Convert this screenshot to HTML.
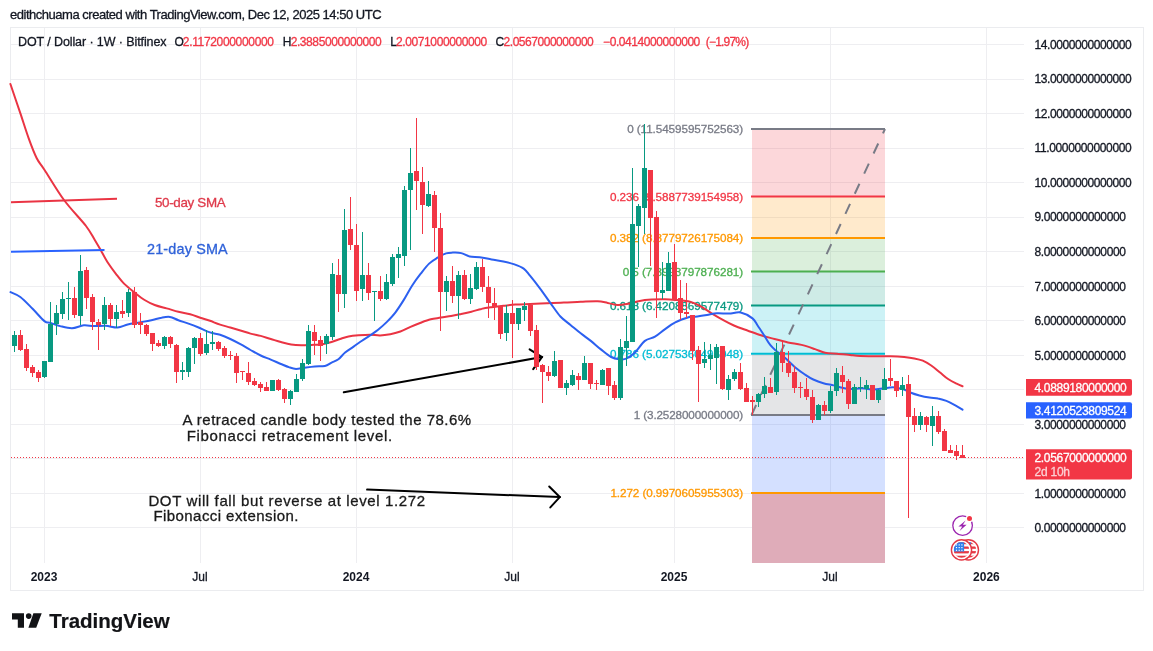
<!DOCTYPE html>
<html lang="en"><head><meta charset="utf-8"><title>DOT / Dollar 1W Bitfinex - TradingView</title>
<style>html,body{margin:0;padding:0;background:#fff;overflow:hidden}svg{display:block}text{font-family:'Liberation Sans', 'DejaVu Sans', sans-serif;white-space:pre}</style>
</head><body>
<svg width="1153" height="651" viewBox="0 0 1153 651">
<rect width="1153" height="651" fill="#ffffff"/>
<rect x="10.5" y="27.5" width="1133" height="563" fill="#ffffff" stroke="#ebecef" stroke-width="1"/>
<g stroke="#eeeef1" stroke-width="1" shape-rendering="crispEdges">
<line x1="11" y1="527.5" x2="1024" y2="527.5"/>
<line x1="11" y1="493.5" x2="1024" y2="493.5"/>
<line x1="11" y1="458.5" x2="1024" y2="458.5"/>
<line x1="11" y1="424.5" x2="1024" y2="424.5"/>
<line x1="11" y1="389.5" x2="1024" y2="389.5"/>
<line x1="11" y1="355.5" x2="1024" y2="355.5"/>
<line x1="11" y1="320.5" x2="1024" y2="320.5"/>
<line x1="11" y1="286.5" x2="1024" y2="286.5"/>
<line x1="11" y1="251.5" x2="1024" y2="251.5"/>
<line x1="11" y1="217.5" x2="1024" y2="217.5"/>
<line x1="11" y1="182.5" x2="1024" y2="182.5"/>
<line x1="11" y1="148.5" x2="1024" y2="148.5"/>
<line x1="11" y1="113.5" x2="1024" y2="113.5"/>
<line x1="11" y1="79.5" x2="1024" y2="79.5"/>
<line x1="11" y1="44.5" x2="1024" y2="44.5"/>
<line x1="44.5" y1="28" x2="44.5" y2="563"/>
<line x1="200.5" y1="28" x2="200.5" y2="563"/>
<line x1="356.5" y1="28" x2="356.5" y2="563"/>
<line x1="512.5" y1="28" x2="512.5" y2="563"/>
<line x1="674.5" y1="28" x2="674.5" y2="563"/>
<line x1="830.5" y1="28" x2="830.5" y2="563"/>
<line x1="986.5" y1="28" x2="986.5" y2="563"/>
</g>
<rect x="752" y="129.0" width="133" height="67.6" fill="rgba(242,54,69,0.2)"/>
<rect x="752" y="196.6" width="133" height="41.4" fill="rgba(255,152,0,0.2)"/>
<rect x="752" y="238.0" width="133" height="33.6" fill="rgba(76,175,80,0.2)"/>
<rect x="752" y="271.6" width="133" height="33.9" fill="rgba(8,153,129,0.2)"/>
<rect x="752" y="305.5" width="133" height="48.2" fill="rgba(0,188,212,0.2)"/>
<rect x="752" y="353.7" width="133" height="61.3" fill="rgba(120,123,134,0.2)"/>
<rect x="752" y="415.0" width="133" height="78.0" fill="rgba(41,98,255,0.2)"/>
<rect x="752" y="493.0" width="133" height="70.0" fill="#dfacb9"/>
<text x="627.2" y="133.2" font-size="11.7" fill="#787b86" stroke="#787b86" stroke-width="0.3" textLength="116.0" lengthAdjust="spacing">0 (11.5459595752563)</text>
<text x="610.0" y="200.8" font-size="11.7" fill="#f23645" stroke="#f23645" stroke-width="0.3" textLength="133.2" lengthAdjust="spacing">0.236 (9.5887739154958)</text>
<text x="610.0" y="242.2" font-size="11.7" fill="#ff9800" stroke="#ff9800" stroke-width="0.3" textLength="133.2" lengthAdjust="spacing">0.382 (8.3779726175084)</text>
<text x="622.7" y="275.8" font-size="11.7" fill="#4caf50" stroke="#4caf50" stroke-width="0.3" textLength="120.5" lengthAdjust="spacing">0.5 (7.3993797876281)</text>
<text x="610.0" y="309.7" font-size="11.7" fill="#089981" stroke="#089981" stroke-width="0.3" textLength="133.2" lengthAdjust="spacing">0.618 (6.4208869577479)</text>
<text x="610.0" y="357.9" font-size="11.7" fill="#00bcd4" stroke="#00bcd4" stroke-width="0.3" textLength="133.2" lengthAdjust="spacing">0.786 (5.0275360496048)</text>
<text x="633.8" y="419.2" font-size="11.7" fill="#787b86" stroke="#787b86" stroke-width="0.3" textLength="109.4" lengthAdjust="spacing">1 (3.2528000000000)</text>
<text x="610.4" y="497.2" font-size="11.7" fill="#ff9800" stroke="#ff9800" stroke-width="0.3" textLength="132.8" lengthAdjust="spacing">1.272 (0.9970605955303)</text>
<line x1="751" y1="129.0" x2="885" y2="129.0" stroke="#787b86" stroke-width="2"/>
<line x1="751" y1="196.6" x2="885" y2="196.6" stroke="#f23645" stroke-width="2"/>
<line x1="751" y1="238.0" x2="885" y2="238.0" stroke="#ff9800" stroke-width="2"/>
<line x1="751" y1="271.6" x2="885" y2="271.6" stroke="#4caf50" stroke-width="2"/>
<line x1="751" y1="305.5" x2="885" y2="305.5" stroke="#089981" stroke-width="2"/>
<line x1="751" y1="353.7" x2="885" y2="353.7" stroke="#00bcd4" stroke-width="2"/>
<line x1="751" y1="415.0" x2="885" y2="415.0" stroke="#787b86" stroke-width="2"/>
<line x1="751" y1="493.0" x2="885" y2="493.0" stroke="#ff9800" stroke-width="2"/>
<line x1="751.5" y1="415" x2="885" y2="129" stroke="#787b86" stroke-width="2" stroke-dasharray="11 11.2"/>
<g stroke="#000000" stroke-width="2" fill="none" stroke-linecap="round">
<line x1="343.8" y1="392.3" x2="542" y2="357.1"/>
<polyline points="529.6,349.4 542,357.1 533.2,369.2"/>
<line x1="367.1" y1="489.6" x2="559.8" y2="497.1"/>
<polyline points="549.2,486.5 559.8,497.1 550.3,507.4"/>
</g>
<path d="M10.4 84.0 C12.2 89.2 17.8 105.8 20.9 114.9 C23.9 124.0 26.1 131.2 28.7 138.4 C31.3 145.6 34.0 152.8 36.6 158.0 C39.2 163.2 39.8 162.7 44.4 169.7 C49.0 176.7 57.1 190.6 64.0 200.0 C70.9 209.4 80.9 219.3 86.0 226.0 C91.1 232.7 92.3 236.0 94.8 240.0 C97.2 244.0 98.6 246.4 100.7 250.1 C102.8 253.8 104.9 258.1 107.4 262.0 C109.9 265.9 113.1 270.2 115.9 273.8 C118.7 277.4 121.2 280.8 124.3 283.9 C127.4 287.0 131.1 289.7 134.5 292.4 C137.9 295.1 141.2 297.9 144.6 300.0 C148.0 302.1 151.0 303.6 154.7 305.0 C158.4 306.4 162.6 307.3 166.6 308.4 C170.6 309.5 174.5 310.8 178.4 311.8 C182.3 312.8 186.5 313.3 190.2 314.3 C193.8 315.3 197.0 316.6 200.3 317.7 C203.6 318.8 206.7 319.6 210.0 320.8 C213.3 322.0 216.7 323.5 220.1 324.6 C223.5 325.7 226.9 326.5 230.3 327.5 C233.7 328.5 237.0 329.5 240.4 330.5 C243.8 331.5 247.1 332.7 250.5 333.6 C253.9 334.5 257.3 335.0 260.7 335.9 C264.1 336.8 267.4 338.0 270.8 339.0 C274.2 340.0 277.5 341.1 280.9 342.0 C284.3 342.9 287.7 343.9 291.1 344.4 C294.5 344.9 297.8 345.1 301.2 345.2 C304.6 345.3 308.0 345.0 311.4 344.9 C314.8 344.8 318.1 344.9 321.5 344.4 C324.9 343.9 328.5 342.9 331.6 342.0 C334.7 341.1 337.3 339.9 340.1 339.0 C342.9 338.1 345.4 337.1 348.5 336.5 C351.6 335.9 355.0 335.6 358.6 335.3 C362.2 335.0 366.4 334.7 370.0 334.7 C373.6 334.7 376.7 335.5 380.1 335.4 C383.5 335.3 386.9 334.8 390.3 334.2 C393.7 333.6 397.0 332.7 400.4 331.5 C403.8 330.3 407.1 328.4 410.5 326.9 C413.9 325.4 417.3 324.0 420.7 322.7 C424.1 321.4 427.4 320.1 430.8 319.3 C434.2 318.5 437.5 318.2 440.9 317.6 C444.3 317.0 447.7 316.5 451.1 315.9 C454.5 315.3 457.8 314.6 461.2 313.9 C464.6 313.2 468.0 312.5 471.4 311.7 C474.8 310.9 478.1 309.6 481.5 308.9 C484.9 308.1 488.0 307.7 491.6 307.2 C495.2 306.7 499.4 306.2 503.4 305.8 C507.3 305.4 510.9 304.9 515.3 304.6 C519.7 304.3 524.7 304.2 530.0 304.0 C535.3 303.8 541.3 303.5 546.9 303.3 C552.5 303.1 558.2 302.9 563.8 302.6 C569.4 302.4 575.1 302.0 580.7 301.8 C586.3 301.6 593.1 301.1 597.6 301.3 C602.1 301.5 604.3 302.3 607.7 302.9 C611.1 303.5 614.4 305.0 617.8 305.1 C621.2 305.2 624.3 304.5 628.0 303.8 C631.7 303.1 635.9 301.6 639.8 300.9 C643.7 300.2 647.4 299.9 651.6 299.6 C655.8 299.3 660.9 299.1 665.1 299.2 C669.3 299.3 672.9 299.7 677.0 300.1 C681.1 300.5 686.1 300.8 690.0 301.8 C693.9 302.8 696.4 304.0 700.1 306.0 C703.8 308.0 708.0 311.2 712.0 313.6 C716.0 316.0 720.1 318.4 723.8 320.4 C727.4 322.4 730.0 323.8 733.9 325.5 C737.8 327.2 742.9 328.9 747.4 330.5 C751.9 332.1 756.5 333.9 761.0 335.3 C765.5 336.7 770.0 337.8 774.5 339.0 C779.0 340.2 783.5 341.4 788.0 342.4 C792.5 343.4 797.0 343.8 801.5 344.9 C806.0 346.0 811.1 347.8 815.0 349.1 C818.9 350.4 821.4 352.0 825.1 352.8 C828.8 353.6 832.9 353.4 837.0 353.7 C841.1 354.0 846.7 354.6 850.0 354.9 C853.3 355.2 852.9 355.5 856.9 355.7 C860.9 355.9 868.2 356.1 873.8 356.2 C879.4 356.3 885.6 356.1 890.7 356.2 C895.8 356.3 900.3 356.6 904.2 357.0 C908.1 357.4 911.2 357.8 914.3 358.4 C917.4 359.0 920.0 359.5 922.8 360.7 C925.6 361.9 928.4 363.6 931.2 365.5 C934.0 367.4 936.9 369.9 939.7 372.2 C942.5 374.4 945.3 377.1 948.1 379.0 C950.9 380.9 954.2 382.5 956.6 383.7 C959.0 384.9 961.5 385.9 962.5 386.3" fill="none" stroke="#ea3443" stroke-width="2" stroke-linejoin="round" stroke-linecap="round"/>
<path d="M10.5 292.1 C12.1 292.9 16.6 294.2 20.3 297.0 C24.0 299.8 28.6 304.8 32.6 308.8 C36.6 312.8 41.5 318.8 44.4 321.1 C47.3 323.4 47.4 322.0 50.0 322.8 C52.6 323.6 56.4 325.2 60.1 326.1 C63.8 327.0 68.0 328.3 72.0 328.2 C76.0 328.1 80.1 325.6 83.8 325.3 C87.5 325.0 90.2 326.0 93.9 326.1 C97.6 326.2 101.8 325.6 105.7 325.8 C109.7 326.0 113.9 327.7 117.6 327.5 C121.3 327.3 124.0 325.4 127.7 324.5 C131.3 323.6 135.6 323.1 139.5 322.4 C143.4 321.7 147.7 321.0 151.4 320.2 C155.1 319.4 158.4 318.2 161.5 317.7 C164.6 317.1 167.1 316.5 169.9 316.9 C172.7 317.3 175.3 319.1 178.4 320.2 C181.5 321.3 185.1 322.4 188.5 323.6 C191.9 324.8 195.0 326.0 198.6 327.5 C202.2 329.0 206.4 331.2 210.0 332.4 C213.6 333.6 216.7 333.7 220.1 334.8 C223.5 335.9 226.9 337.4 230.3 339.0 C233.7 340.6 237.0 342.3 240.4 344.1 C243.8 345.9 247.1 348.1 250.5 350.0 C253.9 351.9 257.3 353.9 260.7 355.5 C264.1 357.1 267.4 358.2 270.8 359.6 C274.2 361.0 277.8 362.7 280.9 364.0 C284.0 365.3 286.9 366.6 289.4 367.4 C291.9 368.2 293.6 368.8 296.1 368.9 C298.6 368.9 301.5 368.1 304.6 367.7 C307.7 367.3 311.3 366.8 314.7 366.5 C318.1 366.2 322.1 366.6 324.9 366.0 C327.7 365.4 329.4 363.7 331.6 362.6 C333.9 361.5 336.1 361.0 338.4 359.3 C340.6 357.6 342.6 354.6 345.1 352.5 C347.6 350.4 350.8 348.6 353.6 346.6 C356.4 344.6 359.3 342.6 362.0 340.7 C364.7 338.8 367.3 337.4 370.0 335.5 C372.7 333.6 375.6 331.8 378.4 329.5 C381.2 327.2 384.1 324.7 386.9 321.9 C389.7 319.1 392.5 316.3 395.3 312.6 C398.1 308.9 401.0 304.4 403.8 299.9 C406.6 295.4 409.4 289.9 412.2 285.5 C415.0 281.1 417.9 277.3 420.7 273.7 C423.5 270.1 426.3 266.3 429.1 263.6 C431.9 260.9 434.8 259.4 437.6 257.7 C440.4 256.0 443.5 254.2 446.0 253.4 C448.5 252.6 450.3 252.7 452.8 252.6 C455.3 252.5 458.4 252.4 461.2 253.1 C464.0 253.8 466.6 255.8 469.7 256.5 C472.8 257.2 476.1 256.7 479.8 257.2 C483.5 257.7 487.7 258.7 491.6 259.4 C495.5 260.1 499.7 260.6 503.4 261.4 C507.1 262.2 510.2 262.9 513.6 264.1 C517.0 265.3 521.0 266.7 523.7 268.6 C526.4 270.5 527.3 272.4 530.0 275.7 C532.7 279.0 536.7 284.1 540.1 288.6 C543.5 293.1 546.9 298.2 550.3 302.9 C553.7 307.5 557.0 312.8 560.4 316.5 C563.8 320.2 567.1 322.1 570.5 324.9 C573.9 327.7 577.3 330.6 580.7 333.3 C584.1 336.0 587.4 338.2 590.8 340.9 C594.2 343.6 597.5 346.7 600.9 349.4 C604.3 352.1 608.0 355.4 611.1 357.0 C614.2 358.6 617.0 358.9 619.5 359.2 C622.0 359.5 623.8 359.8 626.3 358.7 C628.8 357.6 631.6 355.8 634.7 352.8 C637.8 349.8 641.5 343.6 644.9 340.9 C648.3 338.2 651.6 338.7 655.0 336.7 C658.4 334.7 661.7 331.5 665.1 329.1 C668.5 326.7 671.1 324.4 675.3 322.4 C679.4 320.3 686.7 317.8 690.0 316.8 C693.3 315.9 692.3 317.0 695.1 316.7 C697.9 316.4 703.2 315.6 706.9 315.0 C710.5 314.4 713.3 313.5 717.0 313.3 C720.7 313.1 724.9 313.7 728.9 313.6 C732.9 313.5 736.8 311.7 740.7 312.5 C744.6 313.3 749.7 316.2 752.5 318.4 C755.3 320.6 755.6 322.6 757.6 325.5 C759.6 328.4 762.2 332.4 764.3 335.6 C766.4 338.8 768.2 342.4 770.2 344.9 C772.2 347.4 773.7 348.7 776.1 350.8 C778.5 352.9 781.5 354.9 784.6 357.6 C787.7 360.3 791.3 364.1 794.7 366.9 C798.1 369.7 801.8 372.4 804.9 374.5 C808.0 376.6 810.2 378.1 813.3 379.5 C816.4 380.9 820.0 382.2 823.4 383.2 C826.8 384.2 830.8 384.7 833.6 385.4 C836.4 386.1 837.2 386.6 840.0 387.2 C842.8 387.8 846.4 388.9 850.1 389.1 C853.8 389.3 858.0 388.2 862.0 388.3 C866.0 388.4 870.1 389.5 873.8 389.5 C877.4 389.5 880.5 388.7 883.9 388.3 C887.3 387.9 890.7 387.2 894.1 387.4 C897.5 387.6 901.4 388.6 904.2 389.5 C907.0 390.4 908.4 391.8 910.9 392.8 C913.4 393.8 916.3 394.7 919.4 395.5 C922.5 396.3 926.4 397.1 929.5 397.6 C932.6 398.1 935.2 397.8 938.0 398.4 C940.8 398.9 943.6 399.8 946.4 400.9 C949.2 402.0 952.2 403.7 954.9 405.2 C957.6 406.7 961.2 408.9 962.5 409.7" fill="none" stroke="#2c60f0" stroke-width="2" stroke-linejoin="round" stroke-linecap="round"/>
<line x1="11" y1="457.5" x2="1024" y2="457.5" stroke="#f23645" stroke-width="1" stroke-dasharray="1 2"/>
<g shape-rendering="crispEdges">
<rect x="14" y="331" width="1" height="21" fill="#089981"/>
<rect x="12" y="335" width="5" height="11" fill="#089981"/>
<rect x="20" y="330" width="1" height="21" fill="#f23645"/>
<rect x="18" y="335" width="5" height="15" fill="#f23645"/>
<rect x="26" y="344" width="1" height="27" fill="#f23645"/>
<rect x="24" y="349" width="5" height="19" fill="#f23645"/>
<rect x="32" y="365" width="1" height="12" fill="#f23645"/>
<rect x="30" y="367" width="5" height="6" fill="#f23645"/>
<rect x="38" y="370" width="1" height="12" fill="#f23645"/>
<rect x="36" y="372" width="5" height="6" fill="#f23645"/>
<rect x="44" y="361" width="1" height="17" fill="#089981"/>
<rect x="42" y="361" width="5" height="16" fill="#089981"/>
<rect x="50" y="302" width="1" height="60" fill="#089981"/>
<rect x="48" y="324" width="5" height="38" fill="#089981"/>
<rect x="56" y="305" width="1" height="30" fill="#089981"/>
<rect x="54" y="313" width="5" height="11" fill="#089981"/>
<rect x="62" y="292" width="1" height="27" fill="#089981"/>
<rect x="60" y="299" width="5" height="15" fill="#089981"/>
<rect x="68" y="282" width="1" height="38" fill="#089981"/>
<rect x="66" y="298" width="5" height="1" fill="#089981"/>
<rect x="74" y="287" width="1" height="31" fill="#f23645"/>
<rect x="72" y="298" width="5" height="17" fill="#f23645"/>
<rect x="80" y="255" width="1" height="70" fill="#089981"/>
<rect x="78" y="271" width="5" height="45" fill="#089981"/>
<rect x="86" y="267" width="1" height="42" fill="#f23645"/>
<rect x="84" y="270" width="5" height="28" fill="#f23645"/>
<rect x="92" y="294" width="1" height="36" fill="#f23645"/>
<rect x="90" y="297" width="5" height="25" fill="#f23645"/>
<rect x="98" y="319" width="1" height="31" fill="#f23645"/>
<rect x="96" y="322" width="5" height="3" fill="#f23645"/>
<rect x="104" y="297" width="1" height="33" fill="#089981"/>
<rect x="102" y="305" width="5" height="19" fill="#089981"/>
<rect x="110" y="303" width="1" height="23" fill="#f23645"/>
<rect x="108" y="305" width="5" height="14" fill="#f23645"/>
<rect x="116" y="305" width="1" height="23" fill="#089981"/>
<rect x="114" y="312" width="5" height="7" fill="#089981"/>
<rect x="122" y="300" width="1" height="18" fill="#f23645"/>
<rect x="120" y="311" width="5" height="3" fill="#f23645"/>
<rect x="128" y="289" width="1" height="28" fill="#089981"/>
<rect x="126" y="292" width="5" height="21" fill="#089981"/>
<rect x="134" y="287" width="1" height="41" fill="#f23645"/>
<rect x="132" y="292" width="5" height="33" fill="#f23645"/>
<rect x="140" y="313" width="1" height="21" fill="#f23645"/>
<rect x="138" y="322" width="5" height="3" fill="#f23645"/>
<rect x="146" y="324" width="1" height="12" fill="#f23645"/>
<rect x="144" y="325" width="5" height="9" fill="#f23645"/>
<rect x="152" y="333" width="1" height="18" fill="#f23645"/>
<rect x="150" y="333" width="5" height="11" fill="#f23645"/>
<rect x="158" y="340" width="1" height="7" fill="#f23645"/>
<rect x="156" y="343" width="5" height="3" fill="#f23645"/>
<rect x="164" y="336" width="1" height="13" fill="#089981"/>
<rect x="162" y="337" width="5" height="9" fill="#089981"/>
<rect x="170" y="336" width="1" height="12" fill="#f23645"/>
<rect x="168" y="337" width="5" height="7" fill="#f23645"/>
<rect x="176" y="344" width="1" height="39" fill="#f23645"/>
<rect x="174" y="345" width="5" height="27" fill="#f23645"/>
<rect x="182" y="362" width="1" height="18" fill="#089981"/>
<rect x="180" y="370" width="5" height="2" fill="#089981"/>
<rect x="188" y="347" width="1" height="30" fill="#089981"/>
<rect x="186" y="348" width="5" height="24" fill="#089981"/>
<rect x="194" y="337" width="1" height="27" fill="#089981"/>
<rect x="192" y="338" width="5" height="10" fill="#089981"/>
<rect x="200" y="333" width="1" height="23" fill="#f23645"/>
<rect x="198" y="338" width="5" height="16" fill="#f23645"/>
<rect x="206" y="330" width="1" height="25" fill="#089981"/>
<rect x="204" y="344" width="5" height="9" fill="#089981"/>
<rect x="212" y="331" width="1" height="19" fill="#089981"/>
<rect x="210" y="342" width="5" height="2" fill="#089981"/>
<rect x="218" y="341" width="1" height="10" fill="#f23645"/>
<rect x="216" y="342" width="5" height="7" fill="#f23645"/>
<rect x="224" y="346" width="1" height="12" fill="#f23645"/>
<rect x="222" y="348" width="5" height="8" fill="#f23645"/>
<rect x="230" y="351" width="1" height="9" fill="#f23645"/>
<rect x="228" y="355" width="5" height="1" fill="#f23645"/>
<rect x="236" y="353" width="1" height="30" fill="#f23645"/>
<rect x="234" y="356" width="5" height="17" fill="#f23645"/>
<rect x="242" y="371" width="1" height="9" fill="#f23645"/>
<rect x="240" y="371" width="5" height="1" fill="#f23645"/>
<rect x="248" y="362" width="1" height="23" fill="#f23645"/>
<rect x="246" y="373" width="5" height="9" fill="#f23645"/>
<rect x="254" y="378" width="1" height="8" fill="#f23645"/>
<rect x="252" y="381" width="5" height="4" fill="#f23645"/>
<rect x="260" y="382" width="1" height="10" fill="#f23645"/>
<rect x="258" y="384" width="5" height="4" fill="#f23645"/>
<rect x="266" y="382" width="1" height="9" fill="#f23645"/>
<rect x="264" y="387" width="5" height="4" fill="#f23645"/>
<rect x="272" y="380" width="1" height="11" fill="#089981"/>
<rect x="270" y="380" width="5" height="11" fill="#089981"/>
<rect x="278" y="379" width="1" height="12" fill="#f23645"/>
<rect x="276" y="380" width="5" height="10" fill="#f23645"/>
<rect x="284" y="388" width="1" height="15" fill="#f23645"/>
<rect x="282" y="389" width="5" height="10" fill="#f23645"/>
<rect x="290" y="390" width="1" height="15" fill="#089981"/>
<rect x="288" y="391" width="5" height="8" fill="#089981"/>
<rect x="296" y="374" width="1" height="18" fill="#089981"/>
<rect x="294" y="379" width="5" height="13" fill="#089981"/>
<rect x="302" y="359" width="1" height="22" fill="#089981"/>
<rect x="300" y="363" width="5" height="16" fill="#089981"/>
<rect x="308" y="325" width="1" height="40" fill="#089981"/>
<rect x="306" y="331" width="5" height="33" fill="#089981"/>
<rect x="314" y="325" width="1" height="30" fill="#f23645"/>
<rect x="312" y="332" width="5" height="9" fill="#f23645"/>
<rect x="320" y="336" width="1" height="25" fill="#f23645"/>
<rect x="318" y="340" width="5" height="6" fill="#f23645"/>
<rect x="326" y="334" width="1" height="20" fill="#089981"/>
<rect x="324" y="336" width="5" height="8" fill="#089981"/>
<rect x="332" y="263" width="1" height="77" fill="#089981"/>
<rect x="330" y="274" width="5" height="63" fill="#089981"/>
<rect x="338" y="259" width="1" height="53" fill="#f23645"/>
<rect x="336" y="275" width="5" height="19" fill="#f23645"/>
<rect x="344" y="209" width="1" height="99" fill="#089981"/>
<rect x="342" y="230" width="5" height="64" fill="#089981"/>
<rect x="350" y="197" width="1" height="53" fill="#f23645"/>
<rect x="348" y="229" width="5" height="16" fill="#f23645"/>
<rect x="356" y="224" width="1" height="77" fill="#f23645"/>
<rect x="354" y="245" width="5" height="46" fill="#f23645"/>
<rect x="362" y="232" width="1" height="69" fill="#089981"/>
<rect x="360" y="275" width="5" height="14" fill="#089981"/>
<rect x="368" y="263" width="1" height="37" fill="#f23645"/>
<rect x="366" y="275" width="5" height="18" fill="#f23645"/>
<rect x="374" y="291" width="1" height="30" fill="#089981"/>
<rect x="372" y="291" width="5" height="1" fill="#089981"/>
<rect x="380" y="276" width="1" height="25" fill="#f23645"/>
<rect x="378" y="291" width="5" height="8" fill="#f23645"/>
<rect x="386" y="274" width="1" height="26" fill="#089981"/>
<rect x="384" y="282" width="5" height="17" fill="#089981"/>
<rect x="392" y="254" width="1" height="32" fill="#089981"/>
<rect x="390" y="257" width="5" height="27" fill="#089981"/>
<rect x="398" y="247" width="1" height="31" fill="#089981"/>
<rect x="396" y="254" width="5" height="4" fill="#089981"/>
<rect x="404" y="186" width="1" height="80" fill="#089981"/>
<rect x="402" y="190" width="5" height="66" fill="#089981"/>
<rect x="410" y="148" width="1" height="102" fill="#089981"/>
<rect x="408" y="173" width="5" height="17" fill="#089981"/>
<rect x="416" y="118" width="1" height="92" fill="#f23645"/>
<rect x="414" y="171" width="5" height="10" fill="#f23645"/>
<rect x="422" y="167" width="1" height="67" fill="#f23645"/>
<rect x="420" y="182" width="5" height="23" fill="#f23645"/>
<rect x="428" y="181" width="1" height="26" fill="#089981"/>
<rect x="426" y="194" width="5" height="12" fill="#089981"/>
<rect x="434" y="191" width="1" height="61" fill="#f23645"/>
<rect x="432" y="195" width="5" height="33" fill="#f23645"/>
<rect x="440" y="213" width="1" height="118" fill="#f23645"/>
<rect x="438" y="228" width="5" height="64" fill="#f23645"/>
<rect x="446" y="276" width="1" height="35" fill="#089981"/>
<rect x="444" y="281" width="5" height="11" fill="#089981"/>
<rect x="452" y="266" width="1" height="37" fill="#f23645"/>
<rect x="450" y="281" width="5" height="15" fill="#f23645"/>
<rect x="458" y="271" width="1" height="48" fill="#089981"/>
<rect x="456" y="275" width="5" height="21" fill="#089981"/>
<rect x="464" y="270" width="1" height="30" fill="#f23645"/>
<rect x="462" y="275" width="5" height="24" fill="#f23645"/>
<rect x="470" y="274" width="1" height="30" fill="#089981"/>
<rect x="468" y="288" width="5" height="11" fill="#089981"/>
<rect x="476" y="262" width="1" height="28" fill="#089981"/>
<rect x="474" y="267" width="5" height="22" fill="#089981"/>
<rect x="482" y="259" width="1" height="33" fill="#f23645"/>
<rect x="480" y="267" width="5" height="20" fill="#f23645"/>
<rect x="488" y="276" width="1" height="42" fill="#f23645"/>
<rect x="486" y="287" width="5" height="16" fill="#f23645"/>
<rect x="494" y="288" width="1" height="32" fill="#f23645"/>
<rect x="492" y="303" width="5" height="4" fill="#f23645"/>
<rect x="500" y="306" width="1" height="33" fill="#f23645"/>
<rect x="498" y="306" width="5" height="28" fill="#f23645"/>
<rect x="506" y="305" width="1" height="36" fill="#089981"/>
<rect x="504" y="313" width="5" height="20" fill="#089981"/>
<rect x="512" y="300" width="1" height="58" fill="#f23645"/>
<rect x="510" y="313" width="5" height="11" fill="#f23645"/>
<rect x="518" y="308" width="1" height="22" fill="#089981"/>
<rect x="516" y="308" width="5" height="16" fill="#089981"/>
<rect x="524" y="302" width="1" height="19" fill="#089981"/>
<rect x="522" y="306" width="5" height="4" fill="#089981"/>
<rect x="530" y="304" width="1" height="32" fill="#f23645"/>
<rect x="528" y="305" width="5" height="26" fill="#f23645"/>
<rect x="536" y="325" width="1" height="45" fill="#f23645"/>
<rect x="534" y="330" width="5" height="37" fill="#f23645"/>
<rect x="542" y="364" width="1" height="39" fill="#f23645"/>
<rect x="540" y="365" width="5" height="7" fill="#f23645"/>
<rect x="548" y="366" width="1" height="15" fill="#f23645"/>
<rect x="546" y="372" width="5" height="4" fill="#f23645"/>
<rect x="554" y="351" width="1" height="26" fill="#089981"/>
<rect x="552" y="361" width="5" height="15" fill="#089981"/>
<rect x="560" y="360" width="1" height="28" fill="#f23645"/>
<rect x="558" y="360" width="5" height="28" fill="#f23645"/>
<rect x="566" y="380" width="1" height="15" fill="#089981"/>
<rect x="564" y="383" width="5" height="5" fill="#089981"/>
<rect x="572" y="370" width="1" height="16" fill="#089981"/>
<rect x="570" y="375" width="5" height="10" fill="#089981"/>
<rect x="578" y="373" width="1" height="17" fill="#f23645"/>
<rect x="576" y="376" width="5" height="4" fill="#f23645"/>
<rect x="584" y="356" width="1" height="24" fill="#089981"/>
<rect x="582" y="363" width="5" height="17" fill="#089981"/>
<rect x="590" y="363" width="1" height="26" fill="#f23645"/>
<rect x="588" y="363" width="5" height="21" fill="#f23645"/>
<rect x="596" y="380" width="1" height="10" fill="#f23645"/>
<rect x="594" y="383" width="5" height="1" fill="#f23645"/>
<rect x="602" y="369" width="1" height="16" fill="#089981"/>
<rect x="600" y="370" width="5" height="15" fill="#089981"/>
<rect x="608" y="368" width="1" height="27" fill="#f23645"/>
<rect x="606" y="368" width="5" height="18" fill="#f23645"/>
<rect x="614" y="381" width="1" height="19" fill="#f23645"/>
<rect x="612" y="385" width="5" height="13" fill="#f23645"/>
<rect x="620" y="339" width="1" height="61" fill="#089981"/>
<rect x="618" y="347" width="5" height="51" fill="#089981"/>
<rect x="626" y="316" width="1" height="50" fill="#089981"/>
<rect x="624" y="341" width="5" height="7" fill="#089981"/>
<rect x="632" y="168" width="1" height="174" fill="#089981"/>
<rect x="630" y="224" width="5" height="118" fill="#089981"/>
<rect x="638" y="204" width="1" height="63" fill="#089981"/>
<rect x="636" y="206" width="5" height="20" fill="#089981"/>
<rect x="644" y="124" width="1" height="110" fill="#089981"/>
<rect x="642" y="168" width="5" height="40" fill="#089981"/>
<rect x="650" y="170" width="1" height="96" fill="#f23645"/>
<rect x="648" y="170" width="5" height="48" fill="#f23645"/>
<rect x="656" y="211" width="1" height="107" fill="#f23645"/>
<rect x="654" y="217" width="5" height="75" fill="#f23645"/>
<rect x="662" y="262" width="1" height="37" fill="#089981"/>
<rect x="660" y="290" width="5" height="3" fill="#089981"/>
<rect x="668" y="252" width="1" height="39" fill="#089981"/>
<rect x="666" y="263" width="5" height="28" fill="#089981"/>
<rect x="674" y="244" width="1" height="56" fill="#f23645"/>
<rect x="672" y="262" width="5" height="38" fill="#f23645"/>
<rect x="680" y="280" width="1" height="40" fill="#f23645"/>
<rect x="678" y="298" width="5" height="15" fill="#f23645"/>
<rect x="686" y="283" width="1" height="35" fill="#f23645"/>
<rect x="684" y="312" width="5" height="2" fill="#f23645"/>
<rect x="692" y="315" width="1" height="45" fill="#f23645"/>
<rect x="690" y="315" width="5" height="36" fill="#f23645"/>
<rect x="698" y="346" width="1" height="56" fill="#f23645"/>
<rect x="696" y="350" width="5" height="14" fill="#f23645"/>
<rect x="704" y="342" width="1" height="26" fill="#089981"/>
<rect x="702" y="359" width="5" height="4" fill="#089981"/>
<rect x="710" y="344" width="1" height="26" fill="#089981"/>
<rect x="708" y="355" width="5" height="4" fill="#089981"/>
<rect x="716" y="344" width="1" height="40" fill="#089981"/>
<rect x="714" y="347" width="5" height="11" fill="#089981"/>
<rect x="722" y="346" width="1" height="44" fill="#f23645"/>
<rect x="720" y="346" width="5" height="43" fill="#f23645"/>
<rect x="728" y="375" width="1" height="25" fill="#089981"/>
<rect x="726" y="379" width="5" height="11" fill="#089981"/>
<rect x="734" y="369" width="1" height="12" fill="#089981"/>
<rect x="732" y="372" width="5" height="7" fill="#089981"/>
<rect x="740" y="363" width="1" height="27" fill="#f23645"/>
<rect x="738" y="372" width="5" height="17" fill="#f23645"/>
<rect x="746" y="383" width="1" height="19" fill="#f23645"/>
<rect x="744" y="388" width="5" height="14" fill="#f23645"/>
<rect x="752" y="396" width="1" height="19" fill="#f23645"/>
<rect x="750" y="400" width="5" height="2" fill="#f23645"/>
<rect x="758" y="393" width="1" height="14" fill="#089981"/>
<rect x="756" y="394" width="5" height="8" fill="#089981"/>
<rect x="764" y="377" width="1" height="21" fill="#089981"/>
<rect x="762" y="386" width="5" height="8" fill="#089981"/>
<rect x="770" y="378" width="1" height="15" fill="#f23645"/>
<rect x="768" y="387" width="5" height="6" fill="#f23645"/>
<rect x="776" y="343" width="1" height="52" fill="#089981"/>
<rect x="774" y="352" width="5" height="40" fill="#089981"/>
<rect x="782" y="342" width="1" height="30" fill="#f23645"/>
<rect x="780" y="352" width="5" height="11" fill="#f23645"/>
<rect x="788" y="351" width="1" height="26" fill="#f23645"/>
<rect x="786" y="363" width="5" height="10" fill="#f23645"/>
<rect x="794" y="366" width="1" height="27" fill="#f23645"/>
<rect x="792" y="372" width="5" height="16" fill="#f23645"/>
<rect x="800" y="382" width="1" height="16" fill="#f23645"/>
<rect x="798" y="387" width="5" height="1" fill="#f23645"/>
<rect x="806" y="378" width="1" height="22" fill="#f23645"/>
<rect x="804" y="389" width="5" height="8" fill="#f23645"/>
<rect x="812" y="390" width="1" height="33" fill="#f23645"/>
<rect x="810" y="397" width="5" height="23" fill="#f23645"/>
<rect x="818" y="404" width="1" height="16" fill="#089981"/>
<rect x="816" y="405" width="5" height="15" fill="#089981"/>
<rect x="824" y="401" width="1" height="14" fill="#f23645"/>
<rect x="822" y="405" width="5" height="6" fill="#f23645"/>
<rect x="830" y="386" width="1" height="27" fill="#089981"/>
<rect x="828" y="391" width="5" height="20" fill="#089981"/>
<rect x="836" y="368" width="1" height="28" fill="#089981"/>
<rect x="834" y="373" width="5" height="18" fill="#089981"/>
<rect x="842" y="366" width="1" height="27" fill="#f23645"/>
<rect x="840" y="375" width="5" height="7" fill="#f23645"/>
<rect x="848" y="379" width="1" height="30" fill="#f23645"/>
<rect x="846" y="381" width="5" height="23" fill="#f23645"/>
<rect x="854" y="384" width="1" height="20" fill="#089981"/>
<rect x="852" y="387" width="5" height="17" fill="#089981"/>
<rect x="860" y="377" width="1" height="15" fill="#089981"/>
<rect x="858" y="387" width="5" height="1" fill="#089981"/>
<rect x="866" y="380" width="1" height="19" fill="#089981"/>
<rect x="864" y="385" width="5" height="4" fill="#089981"/>
<rect x="872" y="385" width="1" height="15" fill="#f23645"/>
<rect x="870" y="385" width="5" height="15" fill="#f23645"/>
<rect x="878" y="389" width="1" height="14" fill="#089981"/>
<rect x="876" y="390" width="5" height="10" fill="#089981"/>
<rect x="884" y="368" width="1" height="22" fill="#089981"/>
<rect x="882" y="379" width="5" height="11" fill="#089981"/>
<rect x="890" y="359" width="1" height="27" fill="#f23645"/>
<rect x="888" y="378" width="5" height="3" fill="#f23645"/>
<rect x="896" y="381" width="1" height="16" fill="#f23645"/>
<rect x="894" y="381" width="5" height="10" fill="#f23645"/>
<rect x="902" y="377" width="1" height="19" fill="#089981"/>
<rect x="900" y="385" width="5" height="5" fill="#089981"/>
<rect x="908" y="375" width="1" height="143" fill="#f23645"/>
<rect x="906" y="384" width="5" height="33" fill="#f23645"/>
<rect x="914" y="408" width="1" height="24" fill="#f23645"/>
<rect x="912" y="416" width="5" height="9" fill="#f23645"/>
<rect x="920" y="412" width="1" height="18" fill="#089981"/>
<rect x="918" y="416" width="5" height="9" fill="#089981"/>
<rect x="926" y="416" width="1" height="16" fill="#f23645"/>
<rect x="924" y="417" width="5" height="8" fill="#f23645"/>
<rect x="932" y="406" width="1" height="40" fill="#089981"/>
<rect x="930" y="416" width="5" height="10" fill="#089981"/>
<rect x="938" y="411" width="1" height="23" fill="#f23645"/>
<rect x="936" y="416" width="5" height="16" fill="#f23645"/>
<rect x="944" y="429" width="1" height="22" fill="#f23645"/>
<rect x="942" y="431" width="5" height="20" fill="#f23645"/>
<rect x="950" y="445" width="1" height="8" fill="#f23645"/>
<rect x="948" y="450" width="5" height="3" fill="#f23645"/>
<rect x="956" y="445" width="1" height="15" fill="#f23645"/>
<rect x="954" y="451" width="5" height="5" fill="#f23645"/>
<rect x="962" y="445" width="1" height="13" fill="#f23645"/>
<rect x="960" y="455" width="5" height="3" fill="#f23645"/>
</g>
<line x1="11" y1="202.3" x2="117" y2="198.8" stroke="#ea3443" stroke-width="2"/>
<line x1="11" y1="251.8" x2="104.5" y2="250" stroke="#2962ff" stroke-width="2"/>
<text x="155.0" y="207.0" font-size="13.4" fill="#df3a4b" stroke="#df3a4b" stroke-width="0.3" textLength="70.7" lengthAdjust="spacing">50-day SMA</text>
<text x="147.0" y="253.6" font-size="14.4" fill="#2f62d9" stroke="#2f62d9" stroke-width="0.3" textLength="80.7" lengthAdjust="spacing">21-day SMA</text>
<text x="182.5" y="425.0" font-size="15" fill="#1a1a1a" stroke="#1a1a1a" stroke-width="0.3" textLength="288.6" lengthAdjust="spacing">A retraced candle body tested the 78.6%</text>
<text x="186.7" y="440.8" font-size="15" fill="#1a1a1a" stroke="#1a1a1a" stroke-width="0.3" textLength="205.5" lengthAdjust="spacing">Fibonacci retracement level.</text>
<text x="148.4" y="505.5" font-size="15" fill="#1a1a1a" stroke="#1a1a1a" stroke-width="0.3" textLength="276.7" lengthAdjust="spacing">DOT will fall but reverse at level 1.272</text>
<text x="153.4" y="521.2" font-size="15" fill="#1a1a1a" stroke="#1a1a1a" stroke-width="0.3" textLength="145.0" lengthAdjust="spacing">Fibonacci extension.</text>
<text x="10.0" y="18.6" font-size="13" fill="#131722" stroke="#131722" stroke-width="0.3" textLength="371.6" lengthAdjust="spacing">edithchuama created with TradingView.com, Dec 12, 2025 14:50 UTC</text>
<text x="18.0" y="45.8" font-size="12.5" fill="#131722" stroke="#131722" stroke-width="0.3" textLength="148.5" lengthAdjust="spacing">DOT / Dollar · 1W · Bitfinex</text>
<text x="174.5" y="45.8" font-size="12" fill="#131722" stroke="#131722" stroke-width="0.3">O</text>
<text x="182.8" y="45.8" font-size="12" fill="#f23645" stroke="#f23645" stroke-width="0.3" textLength="91.2" lengthAdjust="spacing">2.1172000000000</text>
<text x="282.7" y="45.8" font-size="12" fill="#131722" stroke="#131722" stroke-width="0.3">H</text>
<text x="290.7" y="45.8" font-size="12" fill="#f23645" stroke="#f23645" stroke-width="0.3" textLength="90.9" lengthAdjust="spacing">2.3885000000000</text>
<text x="390.2" y="45.8" font-size="12" fill="#131722" stroke="#131722" stroke-width="0.3">L</text>
<text x="396.0" y="45.8" font-size="12" fill="#f23645" stroke="#f23645" stroke-width="0.3" textLength="91.3" lengthAdjust="spacing">2.0071000000000</text>
<text x="495.6" y="45.8" font-size="12" fill="#131722" stroke="#131722" stroke-width="0.3">C</text>
<text x="503.6" y="45.8" font-size="12" fill="#f23645" stroke="#f23645" stroke-width="0.3" textLength="90.2" lengthAdjust="spacing">2.0567000000000</text>
<text x="603.1" y="45.8" font-size="12" fill="#f23645" stroke="#f23645" stroke-width="0.3" textLength="97.2" lengthAdjust="spacing">−0.0414000000000</text>
<text x="705.8" y="45.8" font-size="12" fill="#f23645" stroke="#f23645" stroke-width="0.3" textLength="43.4" lengthAdjust="spacing">(−1.97%)</text>
<text x="1034.5" y="532.1" font-size="12" fill="#131722" stroke="#131722" stroke-width="0.3" textLength="91.4" lengthAdjust="spacing">0.0000000000000</text>
<text x="1034.5" y="497.6" font-size="12" fill="#131722" stroke="#131722" stroke-width="0.3" textLength="91.4" lengthAdjust="spacing">1.0000000000000</text>
<text x="1034.5" y="428.5" font-size="12" fill="#131722" stroke="#131722" stroke-width="0.3" textLength="91.4" lengthAdjust="spacing">3.0000000000000</text>
<text x="1034.5" y="359.5" font-size="12" fill="#131722" stroke="#131722" stroke-width="0.3" textLength="91.4" lengthAdjust="spacing">5.0000000000000</text>
<text x="1034.5" y="325.0" font-size="12" fill="#131722" stroke="#131722" stroke-width="0.3" textLength="91.4" lengthAdjust="spacing">6.0000000000000</text>
<text x="1034.5" y="290.5" font-size="12" fill="#131722" stroke="#131722" stroke-width="0.3" textLength="91.4" lengthAdjust="spacing">7.0000000000000</text>
<text x="1034.5" y="255.9" font-size="12" fill="#131722" stroke="#131722" stroke-width="0.3" textLength="91.4" lengthAdjust="spacing">8.0000000000000</text>
<text x="1034.5" y="221.4" font-size="12" fill="#131722" stroke="#131722" stroke-width="0.3" textLength="91.4" lengthAdjust="spacing">9.0000000000000</text>
<text x="1034.5" y="186.9" font-size="12" fill="#131722" stroke="#131722" stroke-width="0.3" textLength="97.2" lengthAdjust="spacing">10.0000000000000</text>
<text x="1034.5" y="152.4" font-size="12" fill="#131722" stroke="#131722" stroke-width="0.3" textLength="97.2" lengthAdjust="spacing">11.0000000000000</text>
<text x="1034.5" y="117.9" font-size="12" fill="#131722" stroke="#131722" stroke-width="0.3" textLength="97.2" lengthAdjust="spacing">12.0000000000000</text>
<text x="1034.5" y="83.3" font-size="12" fill="#131722" stroke="#131722" stroke-width="0.3" textLength="97.2" lengthAdjust="spacing">13.0000000000000</text>
<text x="1034.5" y="48.8" font-size="12" fill="#131722" stroke="#131722" stroke-width="0.3" textLength="97.2" lengthAdjust="spacing">14.0000000000000</text>
<path d="M1026 379.0 H1130 a2 2 0 0 1 2 2 V393.7 a2 2 0 0 1 -2 2 H1026 Z" fill="#f23645"/>
<text x="1034.5" y="391.8" font-size="12" fill="#ffffff" stroke="#ffffff" stroke-width="0.3" textLength="92.2" lengthAdjust="spacing">4.0889180000000</text>
<path d="M1026 402.3 H1130 a2 2 0 0 1 2 2 V416.5 a2 2 0 0 1 -2 2 H1026 Z" fill="#2962ff"/>
<text x="1034.5" y="414.8" font-size="12" fill="#ffffff" stroke="#ffffff" stroke-width="0.3" textLength="92.2" lengthAdjust="spacing">3.4120523809524</text>
<path d="M1026 449.3 H1130 a2 2 0 0 1 2 2 V477.5 a2 2 0 0 1 -2 2 H1026 Z" fill="#f23645"/>
<text x="1034.5" y="462.0" font-size="12" fill="#ffffff" stroke="#ffffff" stroke-width="0.3" textLength="92.2" lengthAdjust="spacing">2.0567000000000</text>
<text x="1034.5" y="476.0" font-size="12" fill="#fbd0d4" stroke="#fbd0d4" stroke-width="0.3" textLength="35.5" lengthAdjust="spacing">2d 10h</text>
<text x="44.0" y="581.0" font-size="12" fill="#131722" font-weight="bold" text-anchor="middle">2023</text>
<text x="200.0" y="581.0" font-size="12" fill="#131722" stroke="#131722" stroke-width="0.3" text-anchor="middle">Jul</text>
<text x="356.0" y="581.0" font-size="12" fill="#131722" font-weight="bold" text-anchor="middle">2024</text>
<text x="512.0" y="581.0" font-size="12" fill="#131722" stroke="#131722" stroke-width="0.3" text-anchor="middle">Jul</text>
<text x="674.0" y="581.0" font-size="12" fill="#131722" font-weight="bold" text-anchor="middle">2025</text>
<text x="830.0" y="581.0" font-size="12" fill="#131722" stroke="#131722" stroke-width="0.3" text-anchor="middle">Jul</text>
<text x="986.4" y="581.0" font-size="12" fill="#131722" font-weight="bold" text-anchor="middle">2026</text>
<g>
<circle cx="962.6" cy="525.6" r="9.8" fill="#ffffff" stroke="#9c27b0" stroke-width="1.3"/>
<path d="M965.6 520.4 L958.4 526.4 L962.2 526.4 L959.6 531 L966.6 524.8 L962.9 524.8 Z" fill="#9c27b0"/>
<circle cx="969.5" cy="518.4" r="3.7" fill="#ffffff"/>
<circle cx="969.5" cy="518.4" r="2.5" fill="#f23645"/>
<circle cx="968.4" cy="549.9" r="10.1" fill="#ffffff" stroke="#e53945" stroke-width="1.4"/>
<clipPath id="fc2"><circle cx="968.4" cy="549.9" r="7.8"/></clipPath>
<g clip-path="url(#fc2)">
<rect x="960.4" y="541.9" width="16" height="16" fill="#ffffff"/>
<rect x="960.4" y="541.9" width="16" height="2.3" fill="#e53945"/>
<rect x="960.4" y="546.5" width="16" height="2.3" fill="#e53945"/>
<rect x="960.4" y="551.1" width="16" height="2.3" fill="#e53945"/>
<rect x="960.4" y="555.7" width="16" height="2.3" fill="#e53945"/>
<rect x="960.4" y="542.1" width="10.6" height="9.4" fill="#2f80ed"/>
<rect x="962.8" y="544.3" width="1.2" height="1.2" fill="#ffffff"/>
<rect x="962.8" y="547.0" width="1.2" height="1.2" fill="#ffffff"/>
<rect x="962.8" y="549.7" width="1.2" height="1.2" fill="#ffffff"/>
<rect x="965.5" y="544.3" width="1.2" height="1.2" fill="#ffffff"/>
<rect x="965.5" y="547.0" width="1.2" height="1.2" fill="#ffffff"/>
<rect x="965.5" y="549.7" width="1.2" height="1.2" fill="#ffffff"/>
<rect x="968.2" y="544.3" width="1.2" height="1.2" fill="#ffffff"/>
<rect x="968.2" y="547.0" width="1.2" height="1.2" fill="#ffffff"/>
<rect x="968.2" y="549.7" width="1.2" height="1.2" fill="#ffffff"/>
</g>
<circle cx="961.5" cy="549.9" r="10.1" fill="#ffffff" stroke="#e53945" stroke-width="1.4"/>
<clipPath id="fc1"><circle cx="961.5" cy="549.9" r="7.8"/></clipPath>
<g clip-path="url(#fc1)">
<rect x="953.5" y="541.9" width="16" height="16" fill="#ffffff"/>
<rect x="953.5" y="541.9" width="16" height="2.3" fill="#e53945"/>
<rect x="953.5" y="546.5" width="16" height="2.3" fill="#e53945"/>
<rect x="953.5" y="551.1" width="16" height="2.3" fill="#e53945"/>
<rect x="953.5" y="555.7" width="16" height="2.3" fill="#e53945"/>
<rect x="953.5" y="542.1" width="10.6" height="9.4" fill="#2f80ed"/>
<rect x="955.9" y="544.3" width="1.2" height="1.2" fill="#ffffff"/>
<rect x="955.9" y="547.0" width="1.2" height="1.2" fill="#ffffff"/>
<rect x="955.9" y="549.7" width="1.2" height="1.2" fill="#ffffff"/>
<rect x="958.6" y="544.3" width="1.2" height="1.2" fill="#ffffff"/>
<rect x="958.6" y="547.0" width="1.2" height="1.2" fill="#ffffff"/>
<rect x="958.6" y="549.7" width="1.2" height="1.2" fill="#ffffff"/>
<rect x="961.3" y="544.3" width="1.2" height="1.2" fill="#ffffff"/>
<rect x="961.3" y="547.0" width="1.2" height="1.2" fill="#ffffff"/>
<rect x="961.3" y="549.7" width="1.2" height="1.2" fill="#ffffff"/>
</g>
</g>
<g fill="#121316">
<path d="M12 613.3 H24 V627.8 H17.8 V619.5 H12 Z"/>
<circle cx="28.7" cy="616.1" r="2.8"/>
<path d="M33.4 613.3 H41.7 L36.2 627.8 H28.4 Z"/>
</g>
<text x="49.3" y="627.8" font-size="20.5" fill="#121316" stroke="#121316" stroke-width="0.2" textLength="120.4" lengthAdjust="spacing" font-weight="bold">TradingView</text>
</svg>
</body></html>
